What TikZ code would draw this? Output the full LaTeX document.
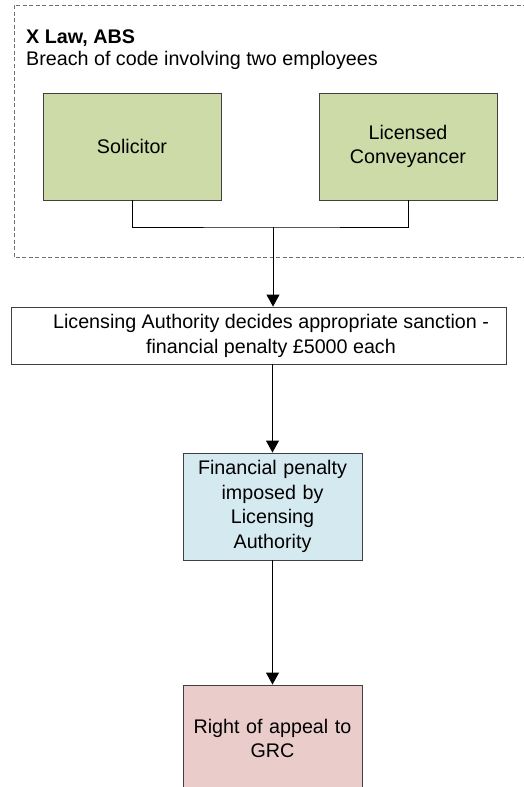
\documentclass[tikz,border=0pt]{standalone}
\usepackage{fontspec}
\setmainfont{Liberation Sans}
\usetikzlibrary{arrows.meta}
\definecolor{boxgreen}{HTML}{CDDBA8}
\definecolor{boxblue}{HTML}{D5EAF0}
\definecolor{boxpink}{HTML}{EACDCB}
\definecolor{dashgray}{HTML}{707070}
\definecolor{edgegray}{HTML}{404040}
\begin{document}
\begin{tikzpicture}[x=1pt,y=-1pt,
  every node/.style={font=\fontsize{19.7}{24.5}\selectfont, text=black},
  stepbox/.style={draw=edgegray, line width=0.9pt, align=center, inner sep=2pt,
    minimum width=179pt, minimum height=107pt, text width=170pt},
  conn/.style={draw=black, line width=0.9pt},
  arr/.style={conn, -{Triangle[width=13pt,length=12pt]}}]
\clip (0,0) rectangle (524,787);
\fill[white] (0,0) rectangle (524,787);
% dashed group frame
\draw[dashgray, line width=0.9pt, dash pattern=on 4pt off 2.5pt] (540,5) -- (14,5) -- (14,257) -- (540,257);
\node[anchor=base west, inner sep=0pt, font=\fontsize{19.7}{24.5}\selectfont\bfseries] (title) at (26,43) {X Law, ABS};
\node[anchor=base west, inner sep=0pt] (sub) at (26,65) {Breach of code involving two employees};
% boxes
\node[stepbox, fill=boxgreen, minimum width=178pt] (sol) at (132,146.5) {Solicitor};
\node[stepbox, fill=boxgreen, minimum width=178pt] (lc) at (408,146.5) {Licensed\\Conveyancer};
\node[draw=edgegray, line width=0.9pt, fill=white, minimum width=495pt, minimum height=57pt, inner sep=0pt] (la) at (258.5,335.5) {};
\node[align=center, inner sep=0pt] (latext) at (271,336) {Licensing Authority decides appropriate sanction -\\financial penalty £5000 each};
\node[stepbox, fill=boxblue] (fp) at (272.5,506.5) {Financial penalty\\imposed by\\Licensing\\Authority};
\node[stepbox, fill=boxpink] (ra) at (272.5,738.5) {Right of appeal to\\GRC};
% connectors
\coordinate (jn) at (273,227);
\draw[conn] (sol.south) |- (jn) -| (lc.south);
\draw[arr] (jn) -- (jn |- la.north);
\draw[arr] (la.south -| fp.north) -- (fp.north);
\draw[arr] (fp.south) -- (ra.north);
\end{tikzpicture}
\end{document}
